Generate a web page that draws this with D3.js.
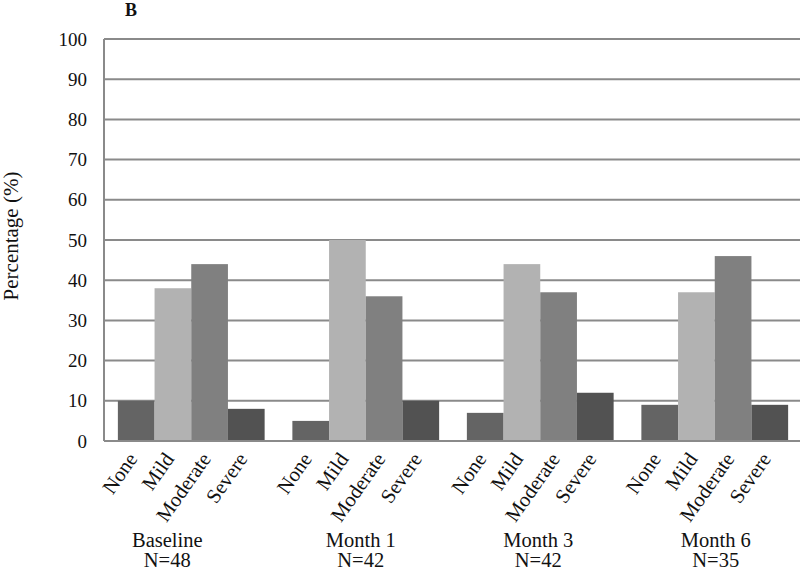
<!DOCTYPE html>
<html>
<head>
<meta charset="utf-8">
<script src="https://cdn.jsdelivr.net/npm/d3@7"></script>
<style>
  body { margin: 0; background: #fff; }
  text { font-family: "Liberation Serif", "Times New Roman", serif; fill: #111; }
</style>
</head>
<body>
<div id="chart"></div>
<script>
let timepoints = ['Baseline', 'Month 1', 'Month 3', 'Month 6']
let sampleSizes = ['N=48', 'N=42', 'N=42', 'N=35']
let severities = ['None', 'Mild', 'Moderate', 'Severe']
let noneValues = [10, 5, 7, 9]
let mildValues = [38, 50, 44, 37]
let moderateValues = [44, 36, 37, 46]
let severeValues = [8, 10, 12, 9]
let yTicks = [0, 10, 20, 30, 40, 50, 60, 70, 80, 90, 100]

let seriesValues = [noneValues, mildValues, moderateValues, severeValues]
let colors = ['#646464', '#b2b2b2', '#808080', '#525252']
// the original's group captions are not quite centred under their groups
let captionShift = [-24, -5, -2, 1]

let width = 800, height = 574
let plotLeft = 104, plotRight = 802, plotTop = 39, plotBottom = 441

let svg = d3.select('#chart')
  .append('svg')
  .attr('width', width)
  .attr('height', height)

let x0 = d3.scaleBand()
  .domain(timepoints)
  .range([plotLeft, plotRight])
  .paddingInner(0.159)
  .paddingOuter(0.0795)

let x1 = d3.scaleBand()
  .domain(severities)
  .range([0, x0.bandwidth()])
  .padding(0)

let y = d3.scaleLinear()
  .domain([0, 100])
  .range([plotBottom, plotTop])

// grid lines
svg.append('g')
  .selectAll('line')
  .data(yTicks)
  .enter()
  .append('line')
  .attr('x1', plotLeft)
  .attr('x2', width)
  .attr('y1', d => y(d))
  .attr('y2', d => y(d))
  .attr('stroke', '#8a8a8a')
  .attr('stroke-width', 2)

// left axis line
svg.append('line')
  .attr('x1', plotLeft).attr('x2', plotLeft)
  .attr('y1', plotTop).attr('y2', plotBottom)
  .attr('stroke', '#8a8a8a')
  .attr('stroke-width', 2)

// y tick labels
svg.append('g')
  .selectAll('text')
  .data(yTicks)
  .enter()
  .append('text')
  .attr('x', 87)
  .attr('y', d => y(d))
  .attr('dy', '0.35em')
  .attr('text-anchor', 'end')
  .style('font-size', '19px')
  .text(d => d)

// bars
let rows = []
timepoints.forEach((t, i) => {
  severities.forEach((s, j) => {
    rows.push({ t: t, s: s, v: seriesValues[j][i], c: colors[j] })
  })
})

svg.append('g')
  .selectAll('rect')
  .data(rows)
  .enter()
  .append('rect')
  .attr('x', d => x0(d.t) + x1(d.s))
  .attr('width', x1.bandwidth())
  .attr('y', d => y(d.v))
  .attr('height', d => y(0) - y(d.v))
  .style('fill', d => d.c)

// bottom axis line
svg.append('line')
  .attr('x1', plotLeft).attr('x2', width)
  .attr('y1', plotBottom).attr('y2', plotBottom)
  .attr('stroke', '#8a8a8a')
  .attr('stroke-width', 2)

// rotated category labels
svg.append('g')
  .selectAll('text')
  .data(rows)
  .enter()
  .append('text')
  .attr('transform', d => {
    let cx = x0(d.t) + x1(d.s) + x1.bandwidth() / 2 + 2
    return `translate(${cx},459) rotate(-55)`
  })
  .attr('text-anchor', 'end')
  .style('font-size', '20.5px')
  .text(d => d.s)

// group labels
let groups = svg.append('g')
  .selectAll('g')
  .data(timepoints)
  .enter()
  .append('g')

groups.append('text')
  .attr('x', (d, i) => x0(d) + x0.bandwidth() / 2 + captionShift[i])
  .attr('y', 547)
  .attr('text-anchor', 'middle')
  .style('font-size', '20.5px')
  .text(d => d)

groups.append('text')
  .attr('x', (d, i) => x0(d) + x0.bandwidth() / 2 + captionShift[i])
  .attr('y', 567)
  .attr('text-anchor', 'middle')
  .style('font-size', '20.5px')
  .text((d, i) => sampleSizes[i])

// y axis title
svg.append('text')
  .attr('transform', 'translate(18,236) rotate(-90)')
  .attr('text-anchor', 'middle')
  .style('font-size', '21px')
  .text('Percentage (%)')

// panel letter
svg.append('text')
  .attr('x', 131)
  .attr('y', 16)
  .attr('text-anchor', 'middle')
  .style('font-size', '18px')
  .style('font-weight', 'bold')
  .text('B')
</script>
</body>
</html>
